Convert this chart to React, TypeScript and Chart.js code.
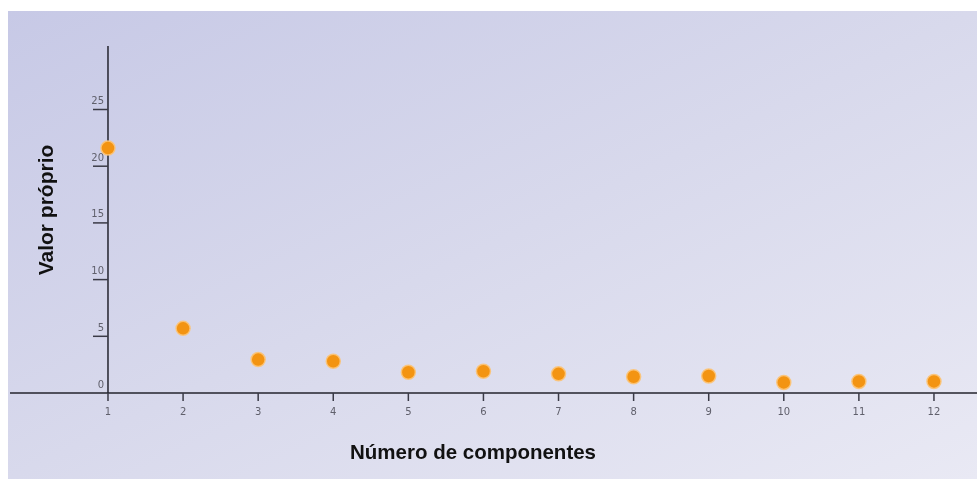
import React, { useEffect, useRef } from "react";
import { Chart, registerables } from "chart.js";

Chart.register(...registerables);

const components = [1, 2, 3, 4, 5, 6, 7, 8, 9, 10, 11, 12];
const eigenvalues = [21.6, 5.7, 2.95, 2.8, 1.83, 1.92, 1.69, 1.43, 1.5, 0.93, 1.02, 1.02];
const yTickValues = [0, 5, 10, 15, 20, 25];
const xTickLabels = components.map((c) => String(c));
const xTitle = "Número de componentes";
const yTitle = "Valor próprio";

const axesPlugin = {
  id: "customAxes",
  beforeDatasetsDraw(chart: any) {
    const { ctx, chartArea } = chart;
    const xs = chart.scales.x;
    const ys = chart.scales.y;
    const x0 = xs.getPixelForValue(1);
    const y0 = ys.getPixelForValue(0);
    ctx.save();
    ctx.strokeStyle = "#24242e";
    ctx.lineWidth = 1.5;
    ctx.beginPath();
    ctx.moveTo(chartArea.left, y0);
    ctx.lineTo(chartArea.right, y0);
    ctx.moveTo(x0, chartArea.top);
    ctx.lineTo(x0, y0);
    ctx.stroke();

    ctx.strokeStyle = "#3a3a46";
    ctx.fillStyle = "#60606c";
    ctx.font = '10px "DejaVu Sans"';
    ctx.textAlign = "center";
    ctx.textBaseline = "middle";
    components.forEach((c, i) => {
      const px = xs.getPixelForValue(c);
      ctx.beginPath();
      ctx.moveTo(px, y0);
      ctx.lineTo(px, y0 + 8);
      ctx.stroke();
      ctx.fillText(xTickLabels[i], px, y0 + 19);
    });

    ctx.textAlign = "right";
    yTickValues.forEach((v) => {
      const py = ys.getPixelForValue(v);
      if (v > 0) {
        ctx.beginPath();
        ctx.moveTo(x0 - 15, py);
        ctx.lineTo(x0, py);
        ctx.stroke();
      }
      ctx.fillText(String(v), x0 - 4, py - 8);
    });

    ctx.fillStyle = "#111111";
    ctx.textAlign = "center";
    ctx.font = 'bold 20.5px "Liberation Sans", Arial, sans-serif';
    ctx.fillText(xTitle, 473, 453);
    ctx.translate(47, 210);
    ctx.rotate(-Math.PI / 2);
    ctx.font = 'bold 21px "Liberation Sans", Arial, sans-serif';
    ctx.fillText(yTitle, 0, 0);
    ctx.restore();
  },
};

export default function App() {
  const canvasRef = useRef<HTMLCanvasElement | null>(null);

  useEffect(() => {
    if (!canvasRef.current) return;
    const chart = new Chart(canvasRef.current, {
      type: "scatter",
      data: {
        datasets: [
          {
            data: components.map((c, i) => ({ x: c, y: eigenvalues[i] })),
            backgroundColor: "#f39412",
            borderColor: "rgba(252, 196, 120, 0.9)",
            borderWidth: 1.5,
            pointRadius: 7,
            pointHoverRadius: 7,
            clip: false as any,
          },
        ],
      },
      options: {
        animation: false,
        responsive: false,
        maintainAspectRatio: false,
        layout: { autoPadding: false, padding: { left: 10, right: 3, top: 46, bottom: 86 } },
        plugins: { legend: { display: false }, tooltip: { enabled: false } },
        scales: {
          x: { type: "linear", min: -0.305, max: 12.573, display: false },
          y: { type: "linear", min: 0, max: 30.6, display: false },
        },
      },
      plugins: [axesPlugin],
    });
    return () => chart.destroy();
  }, []);

  return (
    <div style={{ position: "absolute", left: 0, top: 0, width: 980, height: 479, background: "#ffffff", overflow: "hidden" }}>
      <div
        style={{
          position: "absolute",
          left: 8,
          top: 11,
          width: 969,
          height: 468,
          background: "linear-gradient(to bottom right, #c7c9e6 0%, #d8d9ec 50%, #e9e9f4 100%)",
        }}
      />
      <canvas ref={canvasRef} width={980} height={479} style={{ position: "absolute", left: 0, top: 0 }} />
    </div>
  );
}
